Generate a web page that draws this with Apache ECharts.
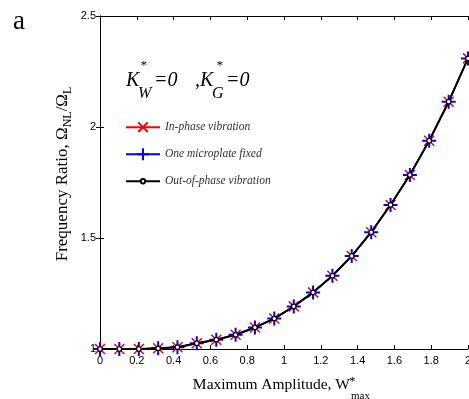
<!DOCTYPE html>
<html>
<head>
<meta charset="utf-8">
<script src="https://cdn.jsdelivr.net/npm/echarts@6/dist/echarts.min.js"></script>
<style>html,body{margin:0;padding:0;background:#fff}#c{width:469px;height:399px}</style>
</head>
<body>
<div id="c"></div>
<script>
const xValues = [0, 0.105, 0.211, 0.316, 0.421, 0.526, 0.632, 0.737, 0.842, 0.947, 1.053, 1.158, 1.263, 1.368, 1.474, 1.579, 1.684, 1.789, 1.895, 2.0];
const inPhase = [1.0, 1.0, 1.0, 1.003, 1.008, 1.026, 1.042, 1.064, 1.097, 1.137, 1.192, 1.255, 1.33, 1.419, 1.526, 1.649, 1.784, 1.938, 2.114, 2.309];
const oneFixed = [1.0, 1.0, 1.0, 1.003, 1.008, 1.026, 1.042, 1.064, 1.097, 1.137, 1.192, 1.255, 1.33, 1.419, 1.526, 1.649, 1.784, 1.938, 2.114, 2.309];
const outOfPhase = [1.0, 1.0, 1.0, 1.003, 1.008, 1.026, 1.042, 1.064, 1.097, 1.137, 1.192, 1.255, 1.33, 1.419, 1.526, 1.649, 1.784, 1.938, 2.114, 2.309];
const seriesNames = ['In-phase vibration', 'One microplate fixed', 'Out-of-phase vibration'];
const xTicks = [0, 0.2, 0.4, 0.6, 0.8, 1, 1.2, 1.4, 1.6, 1.8, 2];
const yTicks = [1, 1.5, 2, 2.5];

const pair = (xs, ys) => xs.map((x, i) => [x, ys[i]]);
const serif = 'Liberation Serif';
const sans = 'Liberation Sans';

const chart = echarts.init(document.getElementById('c'), null, {renderer: 'canvas'});
const axisCommon = {
  axisLine: {show: true, lineStyle: {color: '#000', width: 1}},
  axisTick: {show: true, inside: true, length: 4, lineStyle: {color: '#000'}},
  splitLine: {show: false}
};
const legendText = {fontFamily: serif, fontStyle: 'italic', fontSize: 11.5, color: '#333'};
const legendRow = (name, centerY, h) => ({
  orient: 'vertical', left: 125, top: centerY - Math.max(h, 14) / 2, padding: 0,
  itemWidth: 34, itemHeight: h, textStyle: legendText, data: [name]
});
chart.setOption({
  animation: false,
  backgroundColor: '#fff',
  grid: {left: 100, right: 1, top: 16, bottom: 50, containLabel: false, outerBoundsMode: 'none'},
  xAxis: [
    Object.assign({type: 'value', min: 0, max: 2, interval: 0.2, position: 'bottom',
      axisLabel: {margin: 6, fontFamily: sans, fontSize: 11, color: '#000',
        formatter: v => xTicks.indexOf(Math.round(v * 10) / 10) >= 0 ? String(Math.round(v * 10) / 10) : ''}}, axisCommon),
    Object.assign({type: 'value', min: 0, max: 2, interval: 0.2, position: 'top', axisLabel: {show: false}}, axisCommon)
  ],
  yAxis: [
    Object.assign({type: 'value', min: 1, max: 2.5, interval: 0.5, position: 'left',
      axisLabel: {margin: 4, fontFamily: sans, fontSize: 11, color: '#000',
        formatter: v => yTicks.indexOf(v) >= 0 ? String(v) : ''}}, axisCommon),
    Object.assign({type: 'value', min: 1, max: 2.5, interval: 0.5, position: 'right', axisLabel: {show: false}}, axisCommon)
  ],
  legend: [
    legendRow(seriesNames[0], 128.2, 12),
    legendRow(seriesNames[1], 154.8, 15),
    legendRow(seriesNames[2], 182.2, 5.5)
  ],
  graphic: [
    {type: 'text', left: 13, top: 8, style: {text: 'a', fontFamily: serif, fontSize: 27, fill: '#000'}},
    {type: 'text', x: 63, y: 174, rotation: Math.PI / 2, style: {
      text: '{n|Frequency Ratio, Ω}{s|NL}{n|/Ω}{s|L}', align: 'center', verticalAlign: 'middle',
      rich: {n: {fontFamily: serif, fontSize: 17, lineHeight: 22, verticalAlign: 'middle', fill: '#000'},
             s: {fontFamily: serif, fontSize: 12, lineHeight: 12, verticalAlign: 'bottom', fill: '#000'}}}},
    {type: 'text', x: 350, y: 385, style: {text: 'Maximum Amplitude, W', align: 'right', verticalAlign: 'middle', fontFamily: serif, fontSize: 15.5, fill: '#000'}},
    {type: 'text', x: 349, y: 382, style: {text: '*', align: 'left', verticalAlign: 'middle', fontFamily: serif, fontSize: 13, fill: '#000'}},
    {type: 'text', x: 351, y: 396, style: {text: 'max', align: 'left', verticalAlign: 'middle', fontFamily: serif, fontSize: 11, fill: '#000'}},
    {type: 'text', x: 126, y: 80.7, style: {text: 'K', verticalAlign: 'middle', fontFamily: serif, fontStyle: 'italic', fontSize: 20, fill: '#000'}},
    {type: 'text', x: 140, y: 66, style: {text: '*', verticalAlign: 'middle', fontFamily: serif, fontStyle: 'italic', fontSize: 13, fill: '#000'}},
    {type: 'text', x: 138, y: 93.5, style: {text: 'W', verticalAlign: 'middle', fontFamily: serif, fontStyle: 'italic', fontSize: 16, fill: '#000'}},
    {type: 'text', x: 154, y: 80.7, style: {text: '=0', verticalAlign: 'middle', fontFamily: serif, fontStyle: 'italic', fontSize: 20, fill: '#000'}},
    {type: 'text', x: 195, y: 80.7, style: {text: ',K', verticalAlign: 'middle', fontFamily: serif, fontStyle: 'italic', fontSize: 20, fill: '#000'}},
    {type: 'text', x: 216, y: 66, style: {text: '*', verticalAlign: 'middle', fontFamily: serif, fontStyle: 'italic', fontSize: 13, fill: '#000'}},
    {type: 'text', x: 212, y: 93.5, style: {text: 'G', verticalAlign: 'middle', fontFamily: serif, fontStyle: 'italic', fontSize: 16, fill: '#000'}},
    {type: 'text', x: 226, y: 80.7, style: {text: '=0', verticalAlign: 'middle', fontFamily: serif, fontStyle: 'italic', fontSize: 20, fill: '#000'}}
  ],
  series: [
    {name: seriesNames[0], type: 'line', data: pair(xValues, inPhase), smooth: false,
      symbol: 'path://M0,0L10,10M10,0L0,10', symbolSize: 10, showAllSymbol: true, clip: false,
      itemStyle: {color: '#ff0000', borderColor: '#ff0000', borderWidth: 1.5},
      lineStyle: {color: '#ff0000', width: 1.5}, z: 2},
    {name: seriesNames[1], type: 'line', data: pair(xValues, oneFixed),
      symbol: 'path://M5,0L5,10M0,5L10,5', symbolSize: 14, showAllSymbol: true, clip: false,
      itemStyle: {color: '#0000ff', borderColor: '#0000ff', borderWidth: 2},
      lineStyle: {color: '#0000ff', width: 1.5}, z: 3},
    {name: seriesNames[2], type: 'line', data: pair(xValues, outOfPhase),
      symbol: 'circle', symbolSize: 4.5, showAllSymbol: true, clip: false,
      itemStyle: {color: '#ffffff', borderColor: '#000000', borderWidth: 1.2},
      lineStyle: {color: '#000000', width: 2}, z: 4}
  ]
});
</script>
</body>
</html>
